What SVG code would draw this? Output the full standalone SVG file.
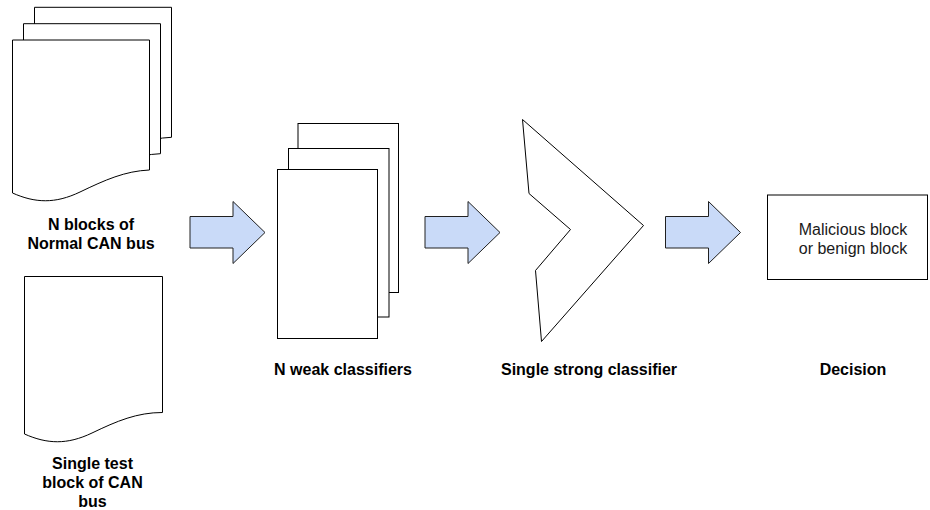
<svg xmlns="http://www.w3.org/2000/svg" xmlns:xlink="http://www.w3.org/1999/xlink" width="930" height="510" viewBox="0 0 930 510">
  <style>
    .shape { fill: #ffffff; stroke: #000000; stroke-width: 1; }
    .arrow { fill: #c9daf8; stroke: #202020; stroke-width: 1; stroke-linejoin: miter; }
    .label { font-family: "Liberation Sans", Arial, sans-serif; font-size: 16px; font-weight: bold; fill: #000000; text-anchor: middle; }
    .body { font-family: "Liberation Sans", Arial, sans-serif; font-size: 16px; fill: #1a1a1a; text-anchor: middle; }
  </style>
  <defs>
    <!-- document sheet with wavy bottom edge -->
    <path id="doc" d="M12.5,40 H149.5 V170 C125,171 105,180 80,192 C55,204 35,203 12.5,193 Z"/>
    <!-- block arrow pointing right -->
    <path id="blockArrow" d="M190,216.5 H233 V201.5 L265,232.5 L233,263.5 V248 H190 Z"/>
  </defs>

  <rect width="930" height="510" fill="#ffffff"/>

  <!-- stacked training documents -->
  <g id="normal-blocks">
    <use xlink:href="#doc" href="#doc" class="shape" transform="translate(22,-32.7)"/>
    <use xlink:href="#doc" href="#doc" class="shape" transform="translate(11,-16.3)"/>
    <use xlink:href="#doc" href="#doc" class="shape"/>
    <text class="label" x="91" y="230">N blocks of</text>
    <text class="label" x="91" y="249.3">Normal CAN bus</text>
  </g>

  <!-- single test document -->
  <g id="test-block">
    <path class="shape" d="M24.5,276.5 H162.5 V412.5 C137,412.5 117,421 92,433 C67,445 47,444 24.5,434 Z"/>
    <text class="label" x="92.5" y="469">Single test</text>
    <text class="label" x="92.5" y="488">block of CAN</text>
    <text class="label" x="92.5" y="507">bus</text>
  </g>

  <!-- stacked weak classifiers -->
  <g id="weak-classifiers">
    <rect class="shape" x="298" y="123.5" width="100.5" height="169"/>
    <rect class="shape" x="288.5" y="148.5" width="100.5" height="168.5"/>
    <rect class="shape" x="277.5" y="169.5" width="100" height="169"/>
    <text class="label" x="343" y="375">N weak classifiers</text>
  </g>

  <!-- strong classifier chevron -->
  <g id="strong-classifier">
    <polygon class="shape" points="522.5,119.5 643.5,225.5 541.5,341.5 535.5,270.5 570.5,229.5 529,193.5"/>
    <text class="label" x="589" y="375">Single strong classifier</text>
  </g>

  <!-- decision output -->
  <g id="decision">
    <rect class="shape" x="767.5" y="195" width="160" height="84.5"/>
    <text class="body" x="853" y="235">Malicious block</text>
    <text class="body" x="853" y="254">or benign block</text>
    <text class="label" x="853" y="375">Decision</text>
  </g>

  <!-- flow arrows -->
  <g id="connectors">
    <use xlink:href="#blockArrow" href="#blockArrow" class="arrow"/>
    <use xlink:href="#blockArrow" href="#blockArrow" class="arrow" transform="translate(235,0)"/>
    <use xlink:href="#blockArrow" href="#blockArrow" class="arrow" transform="translate(475.5,0)"/>
  </g>
</svg>
